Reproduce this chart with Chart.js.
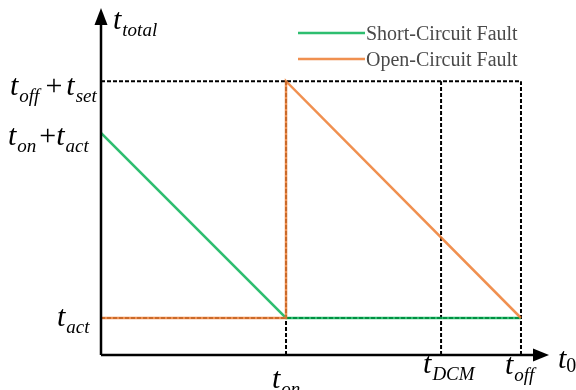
<!DOCTYPE html>
<html>
<head>
<meta charset="utf-8">
<script src="https://cdn.jsdelivr.net/npm/chart.js@4/dist/chart.umd.min.js"></script>
<style>
  html, body { margin: 0; padding: 0; background: #ffffff; }
  #wrap { width: 576px; height: 390px; }
</style>
</head>
<body>
<div id="wrap"><canvas id="c" width="576" height="390"></canvas></div>
<script>
// Time instants on the t0 axis (normalised to t_on = 1)
const tOn = 1.0;
const tDCM = 1.838;
const tOff = 2.27;
const xAxisMax = 2.416;

// Levels on the t_total axis (normalised to t_act = 1)
const tAct = 1.0;
const tOnPlusAct = 6.0;
const tOffPlusSet = 7.4;
const yAxisMax = 9.27;

// Series: short-circuit fault
const shortX = [0, tOn, tOff];
const shortY = [tOnPlusAct, tAct, tAct];
// Series: open-circuit fault
const openX = [0, tOn, tOn, tOff];
const openY = [tAct, tAct, tOffPlusSet, tAct];

const seriesNames = ['Short-Circuit Fault', 'Open-Circuit Fault'];

// Tick labels: base symbol + subscript
const xTickValues = [tOn, tDCM, tOff];
const xTickSubs = ['on', 'DCM', 'off'];
const yTickValues = [tOffPlusSet, tOnPlusAct, tAct];

const GREEN = 'rgba(0,176,80,0.82)';
const ORANGE = 'rgba(237,125,49,0.85)';
const FONT = '"Liberation Serif", "Times New Roman", serif';

const pts = (xs, ys) => xs.map((x, i) => ({ x: x, y: ys[i] }));

function guide(points) {
  return {
    data: points, borderColor: '#000', borderWidth: 2, borderDash: [4, 2],
    pointRadius: 0, showLine: true, fill: false, tension: 0
  };
}

const datasets = [
  { label: seriesNames[1], data: pts(openX, openY), borderColor: ORANGE, borderWidth: 2.5,
    pointRadius: 0, showLine: true, fill: false, tension: 0 },
  { label: seriesNames[0], data: pts(shortX, shortY), borderColor: GREEN, borderWidth: 2.5,
    pointRadius: 0, showLine: true, fill: false, tension: 0 },
  // dotted reference lines
  guide([{ x: 0, y: tOffPlusSet }, { x: tOff, y: tOffPlusSet }]),
  guide([{ x: 0, y: tAct }, { x: tOff, y: tAct }]),
  guide([{ x: tOn, y: 0 }, { x: tOn, y: tOffPlusSet }]),
  guide([{ x: tDCM, y: 0 }, { x: tDCM, y: tOffPlusSet }]),
  guide([{ x: tOff, y: 0 }, { x: tOff, y: tOffPlusSet }])
];

// Draws a sequence of text runs (symbol, subscript, operator) starting at x, baseline y
function drawRuns(ctx, x, y, runs) {
  for (const r of runs) {
    ctx.font = (r.italic === false ? '' : 'italic ') + r.size + 'px ' + FONT;
    x += r.gap || 0;
    ctx.fillText(r.text, x, y + (r.dy || 0));
    x += ctx.measureText(r.text).width;
  }
}

const BIG = 30, SUB = 19;
const sym = (sub, gap) => [
  { text: 't', size: BIG, gap: gap || 0 },
  { text: sub, size: SUB, dy: 7, gap: 1 }
];

const axesPlugin = {
  id: 'axesAndLabels',
  afterDatasetsDraw(chart) {
    const ctx = chart.ctx;
    const xs = chart.scales.x, ys = chart.scales.y;
    const x0 = xs.getPixelForValue(0), y0 = ys.getPixelForValue(0);
    const xEnd = xs.getPixelForValue(xAxisMax), yEnd = ys.getPixelForValue(yAxisMax);
    ctx.save();
    // axes
    ctx.strokeStyle = '#000';
    ctx.fillStyle = '#000';
    ctx.lineWidth = 2.5;
    ctx.beginPath();
    ctx.moveTo(x0, y0); ctx.lineTo(x0, yEnd + 12);
    ctx.moveTo(x0, y0); ctx.lineTo(xEnd - 12, y0);
    ctx.stroke();
    // arrow heads
    ctx.beginPath();
    ctx.moveTo(x0, yEnd - 4); ctx.lineTo(x0 - 6.5, yEnd + 13); ctx.lineTo(x0 + 6.5, yEnd + 13);
    ctx.closePath(); ctx.fill();
    ctx.beginPath();
    ctx.moveTo(xEnd + 1, y0); ctx.lineTo(xEnd - 15, y0 - 6.5); ctx.lineTo(xEnd - 15, y0 + 6.5);
    ctx.closePath(); ctx.fill();

    ctx.textBaseline = 'alphabetic';
    ctx.textAlign = 'left';
    // axis titles
    drawRuns(ctx, x0 + 12, yEnd + 17, [
      { text: 't', size: BIG }, { text: 'total', size: SUB, dy: 7, gap: 1 }
    ]);
    drawRuns(ctx, xEnd + 10, y0 + 13, [
      { text: 't', size: BIG }, { text: '0', size: 20, italic: false, dy: 4, gap: 0 }
    ]);

    // y tick labels
    const py0 = ys.getPixelForValue(yTickValues[0]);
    drawRuns(ctx, 10, py0 + 14, [].concat(
      sym('off'),
      [{ text: '+', size: BIG, italic: false, gap: 6 }],
      sym('set', 4)
    ));
    const py1 = ys.getPixelForValue(yTickValues[1]);
    drawRuns(ctx, 8, py1 + 12, [].concat(
      sym('on'),
      [{ text: '+', size: BIG, italic: false, gap: 3 }],
      sym('act', 0)
    ));
    const py2 = ys.getPixelForValue(yTickValues[2]);
    drawRuns(ctx, 57, py2 + 8, sym('act'));

    // x tick labels
    const xBase = [y0 + 33, y0 + 18, y0 + 19];
    const xShift = [-14, -18, -16];
    xTickValues.forEach((v, i) => {
      drawRuns(ctx, xs.getPixelForValue(v) + xShift[i], xBase[i], sym(xTickSubs[i]));
    });

    // legend
    const leg = [[GREEN, seriesNames[0], 33], [ORANGE, seriesNames[1], 59]];
    ctx.font = '20px ' + FONT;
    for (const [col, name, ly] of leg) {
      ctx.strokeStyle = col;
      ctx.lineWidth = 2.5;
      ctx.beginPath(); ctx.moveTo(298, ly); ctx.lineTo(365, ly); ctx.stroke();
      ctx.fillStyle = '#4a4a4a';
      ctx.fillText(name, 366, ly + 7);
    }
    ctx.restore();
  }
};

new Chart(document.getElementById('c'), {
  type: 'scatter',
  data: { datasets: datasets },
  options: {
    responsive: false,
    animation: false,
    devicePixelRatio: 1,
    layout: { padding: { left: 101, right: 28, top: 12, bottom: 35 } },
    scales: {
      x: { type: 'linear', display: false, min: 0, max: xAxisMax },
      y: { type: 'linear', display: false, min: 0, max: yAxisMax }
    },
    plugins: { legend: { display: false }, tooltip: { enabled: false } }
  },
  plugins: [axesPlugin]
});
</script>
</body>
</html>
